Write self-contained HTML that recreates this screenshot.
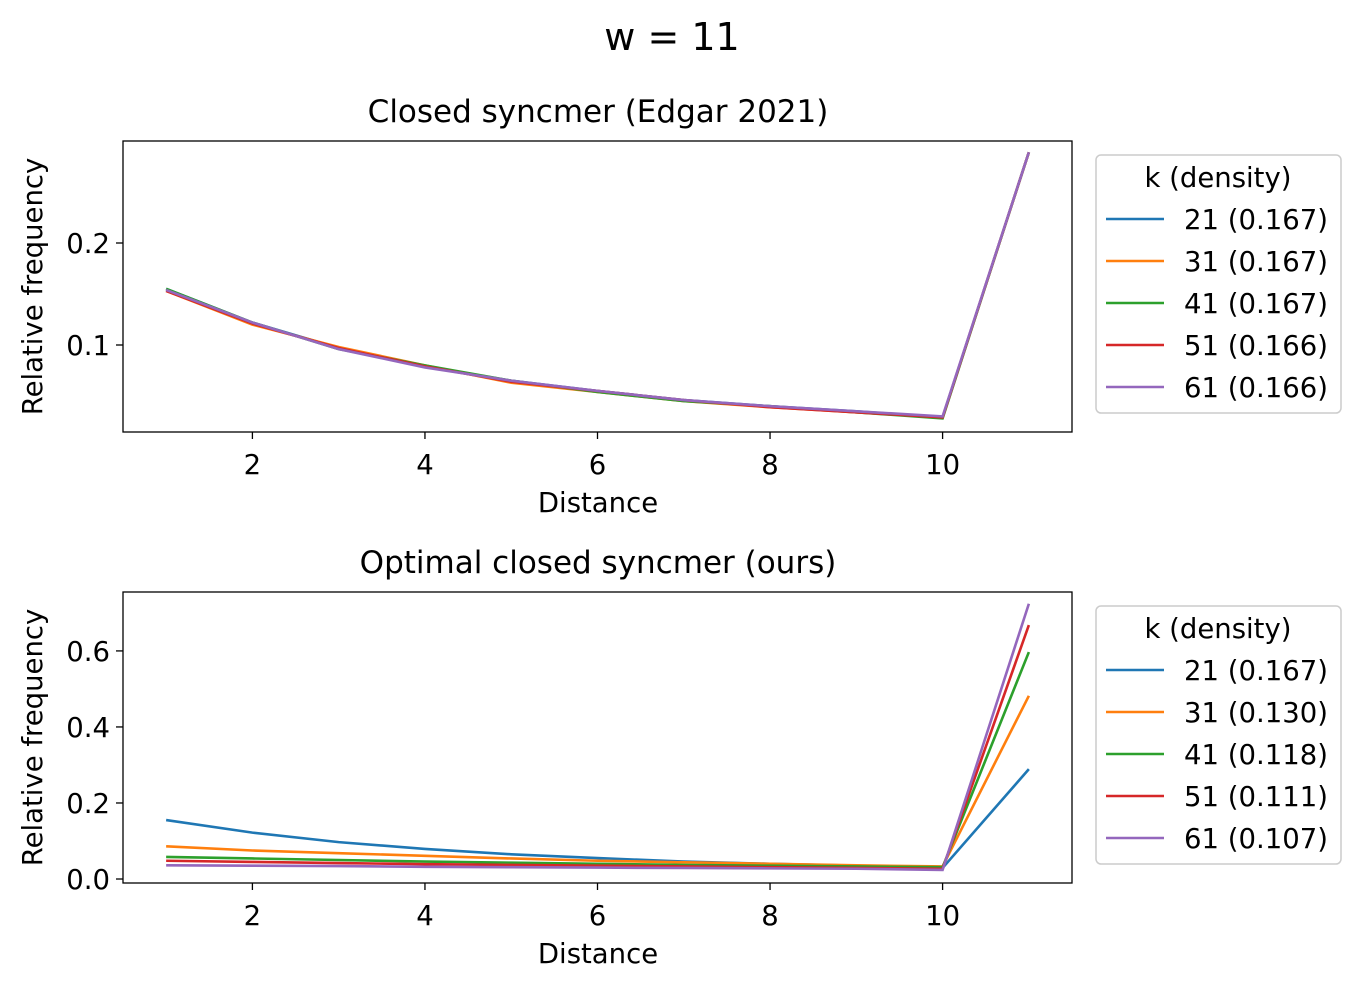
<!DOCTYPE html>
<html><head><meta charset="utf-8"><style>
body{margin:0;background:#fff;}
svg text{font-family:"DejaVu Sans","Liberation Sans",sans-serif;fill:#000;}
</style></head><body>
<svg id="fig" width="1361" height="990" xmlns="http://www.w3.org/2000/svg">
<rect width="1361" height="990" fill="#fff"/>
<text x="672" y="50" style="font-size:38px" text-anchor="middle">w = 11</text>
</svg>
<script>
const distances=[1,2,3,4,5,6,7,8,9,10,11];
const labelsTop=["21 (0.167)","31 (0.167)","41 (0.167)","51 (0.166)","61 (0.166)"];
const labelsBot=["21 (0.167)","31 (0.130)","41 (0.118)","51 (0.111)","61 (0.107)"];
const topK21=[0.155,0.122,0.097,0.079,0.065,0.055,0.046,0.040,0.035,0.029,0.289];
const topK31=[0.153,0.120,0.098,0.080,0.063,0.054,0.045,0.039,0.034,0.029,0.289];
const topK41=[0.155,0.122,0.096,0.080,0.065,0.054,0.045,0.040,0.034,0.028,0.289];
const topK51=[0.153,0.121,0.097,0.079,0.064,0.055,0.046,0.039,0.034,0.029,0.289];
const topK61=[0.154,0.122,0.096,0.078,0.065,0.055,0.046,0.040,0.035,0.030,0.289];
const botK21=[0.155,0.122,0.097,0.079,0.065,0.055,0.046,0.040,0.035,0.029,0.289];
const botK31=[0.086,0.075,0.068,0.061,0.054,0.048,0.044,0.040,0.036,0.033,0.482];
const botK41=[0.058,0.054,0.050,0.046,0.043,0.040,0.037,0.035,0.033,0.031,0.597];
const botK51=[0.048,0.045,0.042,0.039,0.037,0.035,0.033,0.031,0.029,0.027,0.668];
const botK61=[0.036,0.035,0.034,0.032,0.031,0.030,0.029,0.028,0.027,0.024,0.724];
const xTicks=[2,4,6,8,10];
const yTicksTop=[0.1,0.2];
const yTicksBot=[0,0.2,0.4,0.6];
const colors=["#1f77b4","#ff7f0e","#2ca02c","#d62728","#9467bd"];
const NS="http://www.w3.org/2000/svg";
const svg=document.getElementById('fig');
function mk(tag,attrs,parent){const e=document.createElementNS(NS,tag);for(const k in attrs)e.setAttribute(k,attrs[k]);(parent||svg).appendChild(e);return e;}
function panel(name,top,bottom,ymin,ymax,yt,series,labels,title,legTop){
  const L=123,R=1072;
  const x=v=>L+(v-0.5)/11*(R-L);
  const y=v=>bottom-(v-ymin)/(ymax-ymin)*(bottom-top);
  const g=mk('g',{});
  
  
  const t=mk('text',{x:598,y:top-19,style:'font-size:31px','text-anchor':'middle'},g);t.textContent=title;
  
  series.forEach((s,i)=>{
    const p=mk('polyline',{points:distances.map((d,j)=>x(d)+','+y(s[j])).join(' '),fill:'none',stroke:colors[i],'stroke-width':2.6},g);
    
    
  });
  mk('rect',{x:L,y:top,width:R-L,height:bottom-top,fill:'none',stroke:'#000','stroke-width':1.3},g);
  xTicks.forEach(v=>{mk('line',{x1:x(v),x2:x(v),y1:bottom,y2:bottom+7,stroke:'#000','stroke-width':1.3},g);
    const tt=mk('text',{x:x(v),y:bottom+42,style:'font-size:27.5px','text-anchor':'middle'},g);tt.textContent=v;
    });
  yt.forEach(v=>{mk('line',{x1:L-7,x2:L,y1:y(v),y2:y(v),stroke:'#000','stroke-width':1.3},g);
    const tt=mk('text',{x:L-13,y:y(v)+10,style:'font-size:27.5px','text-anchor':'end'},g);tt.textContent=v.toFixed(1);
    });
  const xl=mk('text',{x:598,y:bottom+80,style:'font-size:27.5px','text-anchor':'middle'},g);xl.textContent='Distance';
  
  const cy=(top+bottom)/2;
  const yl=mk('text',{x:42,y:cy,style:'font-size:27.5px','text-anchor':'middle',transform:'rotate(-90 42 '+cy+')'},g);yl.textContent='Relative frequency';
  
  const lg=mk('g',{},g);
  
  mk('rect',{x:1096,y:legTop,width:245,height:258,rx:5,fill:'#fff',stroke:'#ccc','stroke-width':1.5},lg);
  const lt=mk('text',{x:1218,y:legTop+32,style:'font-size:27.5px','text-anchor':'middle'},lg);lt.textContent='k (density)';
  labels.forEach((lab,i)=>{const yy=legTop+64+i*42;
    mk('line',{x1:1106,x2:1164,y1:yy,y2:yy,stroke:colors[i],'stroke-width':2.6},lg);
    const e=mk('text',{x:1184,y:yy+10,style:'font-size:27.5px'},lg);e.textContent=lab;
    });
}
panel('top-panel',141,432,0.0147,0.3,yTicksTop,[topK21,topK31,topK41,topK51,topK61],labelsTop,'Closed syncmer (Edgar 2021)',155);
panel('bottom-panel',592,883,-0.0105,0.755,yTicksBot,[botK21,botK31,botK41,botK51,botK61],labelsBot,'Optimal closed syncmer (ours)',606);
</script>
</body></html>
